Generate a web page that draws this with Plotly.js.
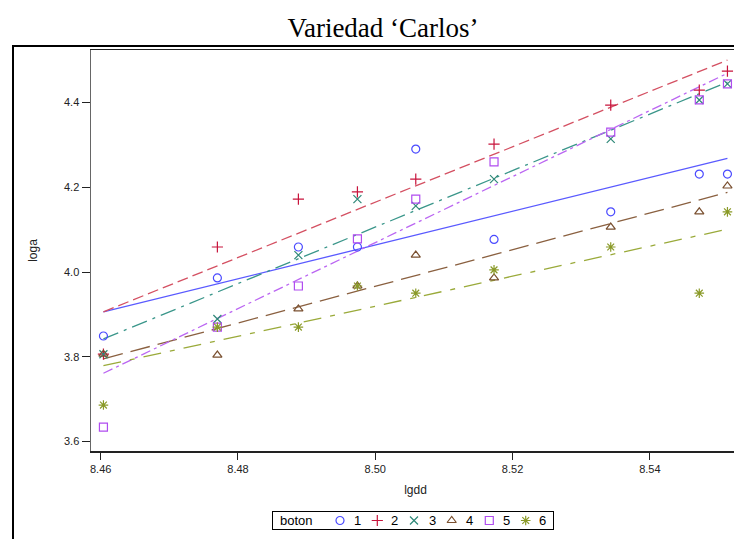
<!DOCTYPE html>
<html>
<head>
<meta charset="utf-8">
<script src="https://cdn.plot.ly/plotly-3.0.1.min.js"></script>
<style>
  html, body { margin: 0; padding: 0; overflow: hidden; background: #fff; }
  #wrap { position: relative; width: 734px; height: 539px; overflow: hidden; }
  #chart { position: absolute; left: 0; top: 0; width: 760px; height: 539px; }
  #frame { position: absolute; left: 12px; top: 45px; width: 760px; height: 560px; border: 2px solid #000; pointer-events: none; }
</style>
</head>
<body>
<div id="wrap">
  <div id="chart"></div>
  <div id="frame"></div>
</div>
<script>
// x values (lgdd)
const lgdd = [8.4604, 8.4770, 8.4888, 8.4974, 8.5059, 8.5173, 8.5343, 8.5472, 8.5513];
// loga per boton group
const boton1 = [3.849, 3.986, 4.059, 4.059, 4.290, 4.077, 4.142, 4.231, 4.231];
const boton2 = [3.806, 4.059, 4.172, 4.189, 4.219, 4.302, 4.394, 4.429, 4.474];
const boton3 = [3.806, 3.889, 4.040, 4.172, 4.156, 4.219, 4.314, 4.406, 4.444];
const boton4 = [3.806, 3.804, 3.913, 3.967, 4.040, 3.986, 4.106, 4.142, 4.203];
const boton5 = [3.634, 3.870, 3.967, 4.078, 4.172, 4.260, 4.330, 4.406, 4.444];
const boton6 = [3.686, 3.870, 3.870, 3.967, 3.950, 4.005, 4.059, 3.950, 4.142];
// fitted regression lines (endpoints)
const fitX = [8.4604, 8.5513];
const fit1 = [3.906, 4.268];
const fit2 = [3.906, 4.500];
const fit3 = [3.842, 4.448];
const fit4 = [3.795, 4.188];
const fit5 = [3.761, 4.469];
const fit6 = [3.779, 4.101];

const legendTitle = 'boton';
const groups = ['1', '2', '3', '4', '5', '6'];
const ys = [boton1, boton2, boton3, boton4, boton5, boton6];
const fits = [fit1, fit2, fit3, fit4, fit5, fit6];
const markerColors = ['#4a4aff', '#c8143c', '#2e8878', '#7a5030', '#b04cf0', '#8a9a28'];
const lineColors = ['#5a5aff', '#d45062', '#3a968a', '#8a6040', '#bb66f2', '#9aaa3a'];
const symbols = ['circle-open', 'cross-thin-open', 'x-thin-open', 'triangle-up-open', 'square-open', 'asterisk-open'];
const dashes = ['solid', '11px,5px', '16px,6px,3px,6px', '20px,8px', '10px,4px,3px,4px', '18px,9px,5px,9px'];

// legend layout (pixel offsets inside legend box)
const legSymX = [67.3, 104.6, 141.3, 179, 216.6, 253];
const legTxtX = [84.6, 122, 159.3, 196.3, 233.3, 270];

const traces = [];
for (let i = 0; i < 6; i++) {
  traces.push({
    x: fitX, y: fits[i], mode: 'lines', type: 'scatter', showlegend: false,
    line: {color: lineColors[i], width: 1.3, dash: dashes[i]}, hoverinfo: 'skip'
  });
}
for (let i = 0; i < 6; i++) {
  traces.push({
    x: lgdd, y: ys[i], mode: 'markers', type: 'scatter', name: groups[i], showlegend: false,
    marker: {symbol: symbols[i], size: 8, color: markerColors[i], line: {color: markerColors[i], width: 1.2}}
  });
}
// manual legend symbols
for (let i = 0; i < 6; i++) {
  traces.push({
    x: [legSymX[i]], y: [9], xaxis: 'x2', yaxis: 'y2', mode: 'markers', type: 'scatter', showlegend: false,
    marker: {symbol: symbols[i], size: 8, color: markerColors[i], line: {color: markerColors[i], width: 1.2}}
  });
}

const annotations = [{
  xref: 'x2', yref: 'y2', x: 5.6, y: 9, xanchor: 'left', yanchor: 'middle', showarrow: false,
  text: legendTitle, font: {size: 13, color: '#000'}
}];
for (let i = 0; i < 6; i++) {
  annotations.push({
    xref: 'x2', yref: 'y2', x: legTxtX[i], y: 9, xanchor: 'center', yanchor: 'middle', showarrow: false,
    text: groups[i], font: {size: 13, color: '#000'}
  });
}

const H = 539, T = 50, B = 5;
const ph = H - T - B; // paper height in px
const pw = 649;       // plot width px (91..740)
const py = v => (H - B - v) / ph;
const px = v => (v - 91) / pw;

const layout = {
  width: 760, height: H,
  margin: {l: 91, r: 20, t: T, b: B},
  paper_bgcolor: 'rgba(0,0,0,0)', plot_bgcolor: '#fff',
  font: {family: 'Liberation Sans, Arial, sans-serif', size: 11, color: '#222'},
  showlegend: false,
  title: {
    text: 'Variedad ‘Carlos’', font: {family: 'Liberation Serif, Times New Roman, serif', size: 27, color: '#000'},
    xref: 'container', x: 383 / 760, xanchor: 'center', yref: 'container', y: 1 - 28 / 539, yanchor: 'middle'
  },
  xaxis: {
    domain: [0, 1], anchor: 'y',
    range: [8.45859, 8.55313], tickvals: [8.46, 8.48, 8.50, 8.52, 8.54], tickformat: '.2f',
    showgrid: false, zeroline: false, showline: true, linecolor: '#222', linewidth: 1.5, mirror: true,
    ticks: 'outside', ticklen: 7, tickcolor: '#222', tickfont: {size: 11, color: '#222'},
    title: {text: 'lgdd', font: {size: 12, color: '#222'}, standoff: 12}
  },
  yaxis: {
    domain: [py(451), 1], anchor: 'x',
    range: [3.5776, 4.5239], tickvals: [3.6, 3.8, 4.0, 4.2, 4.4], tickformat: '.1f',
    showgrid: false, zeroline: false, showline: true, linecolor: '#666', linewidth: 1.5, mirror: true,
    ticks: 'outside', ticklen: 8, tickcolor: '#222', tickfont: {size: 11, color: '#222'},
    title: {text: 'loga', font: {size: 12, color: '#222'}, standoff: 24}
  },
  xaxis2: {
    domain: [px(272.7), px(553.3)], anchor: 'y2', range: [0, 280.6],
    showgrid: false, zeroline: false, showticklabels: false, ticks: '',
    showline: true, mirror: true, linecolor: '#000', linewidth: 1
  },
  yaxis2: {
    domain: [py(529.3), py(511.7)], anchor: 'x2', range: [0, 18],
    showgrid: false, zeroline: false, showticklabels: false, ticks: '',
    showline: true, mirror: true, linecolor: '#000', linewidth: 1
  },
  annotations: annotations
};

Plotly.newPlot('chart', traces, layout, {displayModeBar: false, staticPlot: true});
</script>
</body>
</html>
